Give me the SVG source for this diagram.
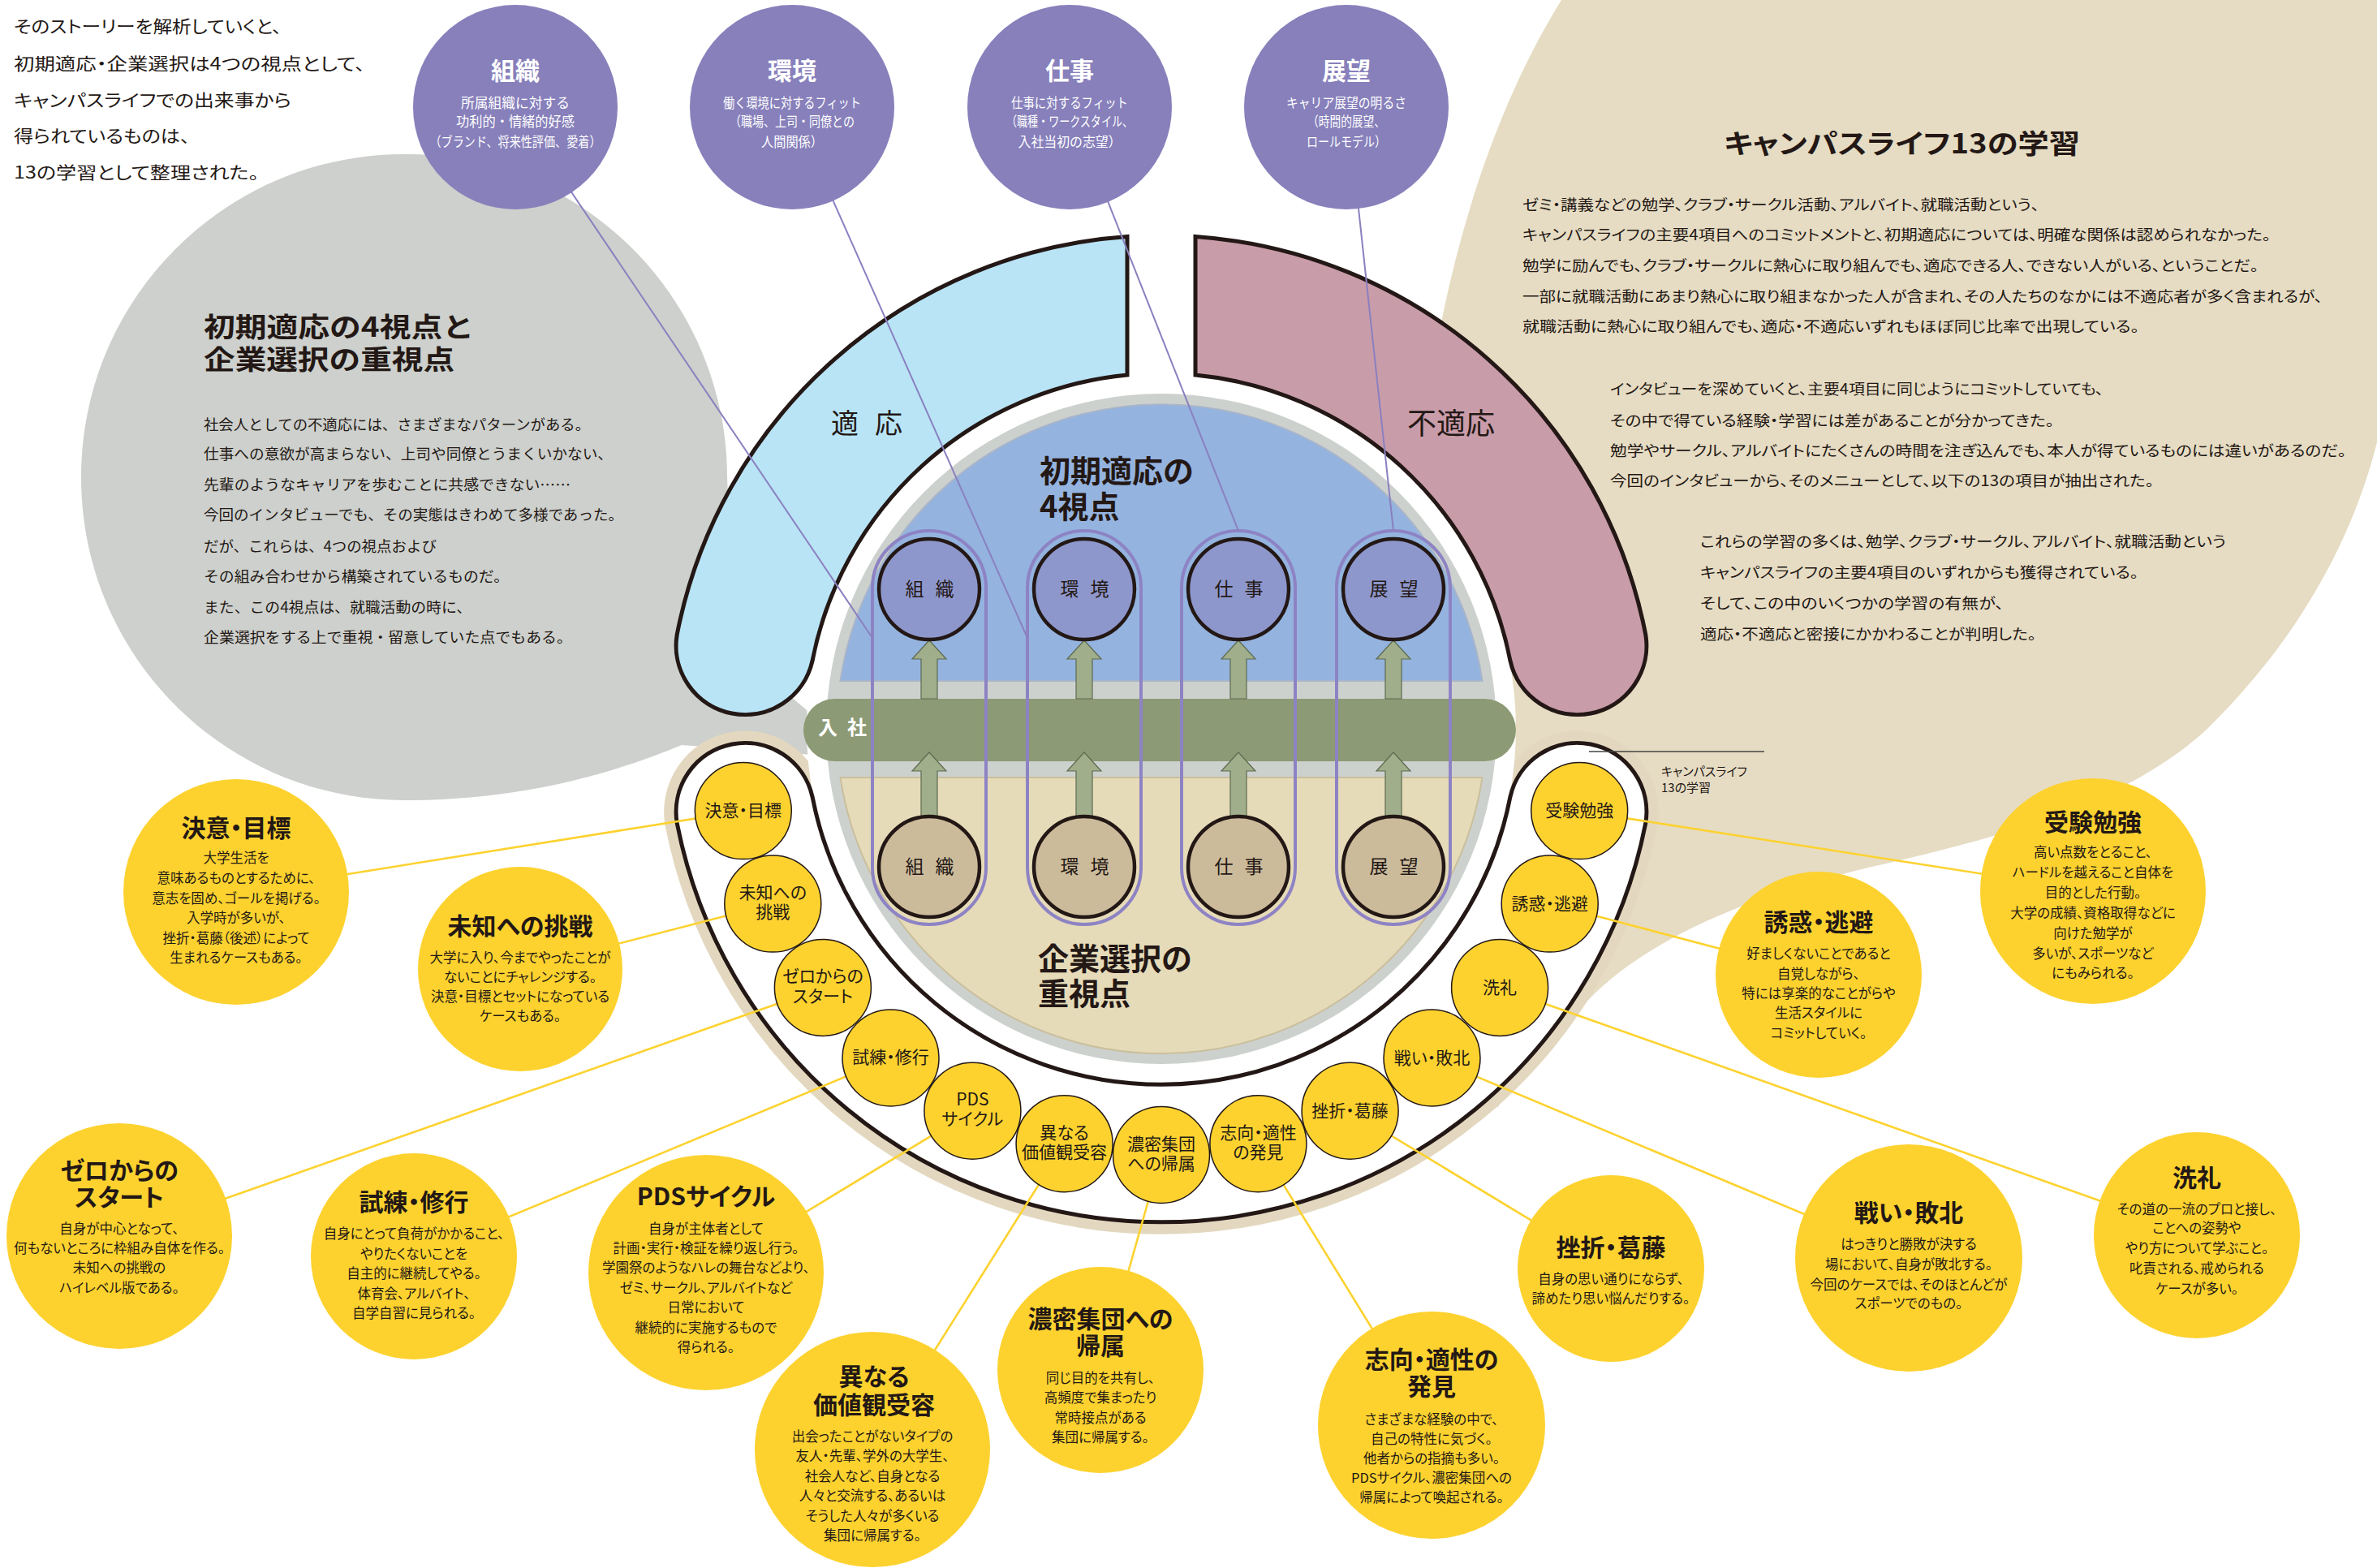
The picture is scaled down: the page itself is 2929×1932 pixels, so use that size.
<svg xmlns="http://www.w3.org/2000/svg" width="2929" height="1932" viewBox="0 0 2929 1932">
<defs>
<style>
.t{font-family:"Noto Sans CJK JP","Noto Sans",sans-serif;fill:#231815;font-feature-settings:"palt"}
.tn{font-family:"Noto Sans CJK JP","Noto Sans",sans-serif;fill:#231815}
.w{fill:#fff}
.b{font-weight:bold}
.ttl{font-size:30px;font-weight:bold;text-anchor:middle}
.bd{font-size:16.5px;text-anchor:middle}
.sm{font-size:21px;text-anchor:middle}
.pc{fill:#8780bb}
.pt{font-size:30px;font-weight:bold;text-anchor:middle;fill:#fff}
.ps{font-size:16.5px;text-anchor:middle;fill:#fff}
.yc{fill:#fdd22f}
.ys{fill:#fdd22f;stroke:#231815;stroke-width:1.5}
.yl{stroke:#fdd22f;stroke-width:2.6;fill:none}
.pl{stroke:#8a80c0;stroke-width:2;fill:none}
.cap{fill:none;stroke:#8d83c4;stroke-width:4}
.arr{fill:#a0ae8b;stroke:#5d6b50;stroke-width:1.2}
.ct{fill:#8e97cc;stroke:#231815;stroke-width:4.5}
.cb{fill:#ccbb9b;stroke:#231815;stroke-width:4.5}
.cl{font-size:23px;text-anchor:middle}
</style>
<path id="arrUp" d="M0,789 L21,812 L10,812 L10,861 L-10,861 L-10,812 L-21,812 Z"/>
<path id="arrDn" d="M0,927 L21,950 L10,950 L10,1006 L-10,1006 L-10,950 L-21,950 Z"/>
</defs>

<rect width="2929" height="1932" fill="#fff"/>

<!-- background bubbles -->
<path id="bubble-left" d="M498,190 C718,190 896,368 896,588 L905,800 L1000,880 L1000,930 L840,918 C750,955 640,986 498,986 C278,986 100,808 100,588 C100,368 278,190 498,190 Z" fill="#cdd0cc"/>
<path id="bubble-right" d="M1924,0 L2929,0 L2929,545 C2905,640 2850,770 2720,898 C2620,990 2470,1030 2320,1065 C2160,1100 2020,1160 1950,1240 C1905,1290 1870,1330 1845,1365 L1760,1000 L1745,700 C1745,480 1800,200 1924,0 Z" fill="#e6dcc3"/>

<!-- top-left lead text -->
<g id="lead">
<text class="t" font-size="21" x="17" y="40" textLength="330" lengthAdjust="spacingAndGlyphs">そのストーリーを解析していくと、</text>
<text class="t" font-size="21" x="17" y="86" textLength="433" lengthAdjust="spacingAndGlyphs">初期適応・企業選択は4つの視点として、</text>
<text class="t" font-size="21" x="17" y="131" textLength="342" lengthAdjust="spacingAndGlyphs">キャンパスライフでの出来事から</text>
<text class="t" font-size="21" x="17" y="175" textLength="217" lengthAdjust="spacingAndGlyphs">得られているものは、</text>
<text class="t" font-size="21" x="17" y="220" textLength="302" lengthAdjust="spacingAndGlyphs">13の学習として整理された。</text>
</g>

<!-- left bubble text -->
<g id="left-text">
<text class="tn b" font-size="33" x="251" y="415" textLength="333" lengthAdjust="spacingAndGlyphs">初期適応の4視点と</text>
<text class="tn b" font-size="33" x="251" y="455" textLength="309" lengthAdjust="spacingAndGlyphs">企業選択の重視点</text>
<g class="tn" font-size="18">
<text x="251" y="530" textLength="476" lengthAdjust="spacingAndGlyphs">社会人としての不適応には、さまざまなパターンがある。</text>
<text x="251" y="566" textLength="504" lengthAdjust="spacingAndGlyphs">仕事への意欲が高まらない、上司や同僚とうまくいかない、</text>
<text x="251" y="604" textLength="452" lengthAdjust="spacingAndGlyphs">先輩のようなキャリアを歩むことに共感できない……</text>
<text x="251" y="641" textLength="517" lengthAdjust="spacingAndGlyphs">今回のインタビューでも、その実態はきわめて多様であった。</text>
<text x="251" y="680" textLength="287" lengthAdjust="spacingAndGlyphs">だが、これらは、4つの視点および</text>
<text x="251" y="717" textLength="376" lengthAdjust="spacingAndGlyphs">その組み合わせから構築されているものだ。</text>
<text x="251" y="755" textLength="330" lengthAdjust="spacingAndGlyphs">また、この4視点は、就職活動の時に、</text>
<text x="251" y="792" textLength="454" lengthAdjust="spacingAndGlyphs">企業選択をする上で重視・留意していた点でもある。</text>
</g>
</g>

<!-- right bubble text -->
<g id="right-text">
<text class="t b" font-size="33" x="2124" y="189" textLength="439" lengthAdjust="spacingAndGlyphs">キャンパスライフ13の学習</text>
<g class="t" font-size="18.5">
<text x="1876" y="259" textLength="637" lengthAdjust="spacingAndGlyphs">ゼミ・講義などの勉学、クラブ・サークル活動、アルバイト、就職活動という、</text>
<text x="1876" y="296" textLength="922" lengthAdjust="spacingAndGlyphs">キャンパスライフの主要4項目へのコミットメントと、初期適応については、明確な関係は認められなかった。</text>
<text x="1876" y="334" textLength="907" lengthAdjust="spacingAndGlyphs">勉学に励んでも、クラブ・サークルに熱心に取り組んでも、適応できる人、できない人がいる、ということだ。</text>
<text x="1876" y="372" textLength="986" lengthAdjust="spacingAndGlyphs">一部に就職活動にあまり熱心に取り組まなかった人が含まれ、その人たちのなかには不適応者が多く含まれるが、</text>
<text x="1876" y="409" textLength="760" lengthAdjust="spacingAndGlyphs">就職活動に熱心に取り組んでも、適応・不適応いずれもほぼ同じ比率で出現している。</text>
<text x="1984" y="486" textLength="608" lengthAdjust="spacingAndGlyphs">インタビューを深めていくと、主要4項目に同じようにコミットしていても、</text>
<text x="1984" y="525" textLength="547" lengthAdjust="spacingAndGlyphs">その中で得ている経験・学習には差があることが分かってきた。</text>
<text x="1984" y="562" textLength="907" lengthAdjust="spacingAndGlyphs">勉学やサークル、アルバイトにたくさんの時間を注ぎ込んでも、本人が得ているものには違いがあるのだ。</text>
<text x="1984" y="599" textLength="670" lengthAdjust="spacingAndGlyphs">今回のインタビューから、そのメニューとして、以下の13の項目が抽出された。</text>
<text x="2095" y="674" textLength="648" lengthAdjust="spacingAndGlyphs">これらの学習の多くは、勉学、クラブ・サークル、アルバイト、就職活動という</text>
<text x="2095" y="712" textLength="540" lengthAdjust="spacingAndGlyphs">キャンパスライフの主要4項目のいずれからも獲得されている。</text>
<text x="2095" y="750" textLength="374" lengthAdjust="spacingAndGlyphs">そして、この中のいくつかの学習の有無が、</text>
<text x="2095" y="788" textLength="414" lengthAdjust="spacingAndGlyphs">適応・不適応と密接にかかわることが判明した。</text>
</g>
</g>

<!-- central ring and disk -->
<g id="core">
<path d="M1001,981.6 A85,85 0 0 0 834.2,1014 A608,608 0 0 0 2027.8,1014 A85,85 0 0 0 1861,981.6 A438,438 0 0 1 1001,981.6 Z" fill="none" stroke="#e3d8bf" stroke-width="30"/>
<circle cx="1431" cy="898" r="437" fill="#fff"/>
<circle cx="1431" cy="898" r="413" fill="#cdd1ce"/>
<path d="M1035.4,839 A400,400 0 0 1 1826.6,839 Z" fill="#94b3df" stroke="#a9b5c9" stroke-width="2"/>
<path d="M1035.5,958 A400,400 0 0 0 1826.5,958 Z" fill="#e6dbb9" stroke="#cabf9d" stroke-width="2"/>
</g>

<g id="band-adapt">
<path d="M1389,291.5 A608,608 0 0 0 834.2,782 A85,85 0 0 0 1001,814.4 A438,438 0 0 1 1389,462 Z" fill="#b9e4f6" stroke="#231815" stroke-width="5" stroke-linejoin="miter"/>
<text class="tn" font-size="34" x="1024" y="534" letter-spacing="20">適応</text>
</g>
<g id="band-maladapt">
<path d="M1473,291.5 A608,608 0 0 1 2027.8,782 A85,85 0 0 1 1861,814.4 A438,438 0 0 0 1473,462 Z" fill="#c99ca9" stroke="#231815" stroke-width="5"/>
<text class="tn" font-size="36" x="1734" y="535">不適応</text>
</g>

<g id="ring-13">
<path d="M1001,981.6 A85,85 0 0 0 834.2,1014 A608,608 0 0 0 2027.8,1014 A85,85 0 0 0 1861,981.6 A438,438 0 0 1 1001,981.6 Z" fill="#fff" stroke="#231815" stroke-width="5"/>
</g>

<g id="entry-bar">
<rect x="990" y="861" width="878" height="77" rx="38.5" fill="#8c9a75"/>
<text class="tn w b" font-size="24" x="1020 1056" y="905" text-anchor="middle" style="fill:#fff">入社</text>
</g>

<g id="arrows">
<use href="#arrUp" x="1145" class="arr"/>
<use href="#arrUp" x="1336" class="arr"/>
<use href="#arrUp" x="1526" class="arr"/>
<use href="#arrUp" x="1717" class="arr"/>
<use href="#arrDn" x="1145" class="arr"/>
<use href="#arrDn" x="1336" class="arr"/>
<use href="#arrDn" x="1526" class="arr"/>
<use href="#arrDn" x="1717" class="arr"/>
</g>

<g id="core-labels">
<text class="tn b" font-size="38" x="1281" y="594">初期適応の</text>
<text class="tn b" font-size="38" x="1281" y="638">4視点</text>
<text class="tn b" font-size="38" x="1279" y="1195">企業選択の</text>
<text class="tn b" font-size="38" x="1279" y="1238">重視点</text>
</g>

<g id="view-organization">
<circle class="ct" cx="1145" cy="726" r="62"/>
<circle class="cb" cx="1145" cy="1068" r="62"/>
<text class="tn cl" x="1127 1164" y="734">組織</text>
<text class="tn cl" x="1127 1164" y="1076">組織</text>
</g>
<g id="view-environment">
<circle class="ct" cx="1336" cy="726" r="62"/>
<circle class="cb" cx="1336" cy="1068" r="62"/>
<text class="tn cl" x="1318 1355" y="734">環境</text>
<text class="tn cl" x="1318 1355" y="1076">環境</text>
</g>
<g id="view-work">
<circle class="ct" cx="1526" cy="726" r="62"/>
<circle class="cb" cx="1526" cy="1068" r="62"/>
<text class="tn cl" x="1508 1545" y="734">仕事</text>
<text class="tn cl" x="1508 1545" y="1076">仕事</text>
</g>
<g id="view-outlook">
<circle class="ct" cx="1717" cy="726" r="62"/>
<circle class="cb" cx="1717" cy="1068" r="62"/>
<text class="tn cl" x="1699 1736" y="734">展望</text>
<text class="tn cl" x="1699 1736" y="1076">展望</text>
</g>

<!-- connectors -->
<g id="connectors">
<rect class="cap" x="1075" y="654" width="140" height="485" rx="70"/>
<rect class="cap" x="1266" y="654" width="140" height="485" rx="70"/>
<rect class="cap" x="1456" y="654" width="140" height="485" rx="70"/>
<rect class="cap" x="1647" y="654" width="140" height="485" rx="70"/>
<line class="pl" x1="680" y1="201" x2="1075" y2="786"/>
<line class="pl" x1="1010" y1="210" x2="1266" y2="786"/>
<line class="pl" x1="1350" y1="210" x2="1526" y2="654"/>
<line class="pl" x1="1670" y1="220" x2="1717" y2="654"/>
<line class="yl" x1="915.8" y1="999.1" x2="291" y2="1099"/>
<line class="yl" x1="952.3" y1="1113.6" x2="641" y2="1194"/>
<line class="yl" x1="1013.9" y1="1216.9" x2="147" y2="1523"/>
<line class="yl" x1="1097.5" y1="1303.5" x2="510" y2="1548"/>
<line class="yl" x1="1198.4" y1="1368.7" x2="870" y2="1568"/>
<line class="yl" x1="1311.6" y1="1409.2" x2="1075" y2="1786"/>
<line class="yl" x1="1431" y1="1423" x2="1356" y2="1688"/>
<line class="yl" x1="1550.4" y1="1409.2" x2="1764" y2="1756"/>
<line class="yl" x1="1663.6" y1="1368.7" x2="1985" y2="1563"/>
<line class="yl" x1="1764.5" y1="1303.5" x2="2352" y2="1550"/>
<line class="yl" x1="1848.1" y1="1216.9" x2="2707" y2="1522"/>
<line class="yl" x1="1909.7" y1="1113.6" x2="2241" y2="1201"/>
<line class="yl" x1="1946.2" y1="999.1" x2="2579" y2="1098"/>
<line x1="1958" y1="926" x2="2174" y2="926" stroke="#444" stroke-width="1.5"/>
</g>
<text class="t" font-size="15" x="2047" y="955.5">キャンパスライフ</text>
<text class="t" font-size="15" x="2047" y="975.5">13の学習</text>

<!-- four viewpoints -->
<g id="p-organization">
<circle class="pc" cx="635" cy="132" r="126"/>
<text class="tn pt" x="635" y="98">組織</text>
<text class="tn ps" x="635" y="133" textLength="134" lengthAdjust="spacingAndGlyphs">所属組織に対する</text>
<text class="tn ps" x="635" y="156" textLength="146" lengthAdjust="spacingAndGlyphs">功利的・情緒的好感</text>
<text class="tn ps" x="635" y="181" textLength="211" lengthAdjust="spacingAndGlyphs">（ブランド、将来性評価、愛着）</text>
</g>
<g id="p-environment">
<circle class="pc" cx="976" cy="132" r="126"/>
<text class="tn pt" x="976" y="98">環境</text>
<text class="tn ps" x="976" y="133" textLength="170" lengthAdjust="spacingAndGlyphs">働く環境に対するフィット</text>
<text class="tn ps" x="976" y="156" textLength="154" lengthAdjust="spacingAndGlyphs">（職場、上司・同僚との</text>
<text class="tn ps" x="976" y="181" textLength="76" lengthAdjust="spacingAndGlyphs">人間関係）</text>
</g>
<g id="p-work">
<circle class="pc" cx="1318" cy="132" r="126"/>
<text class="tn pt" x="1318" y="98">仕事</text>
<text class="tn ps" x="1318" y="133" textLength="144" lengthAdjust="spacingAndGlyphs">仕事に対するフィット</text>
<text class="tn ps" x="1318" y="156" textLength="156" lengthAdjust="spacingAndGlyphs">（職種・ワークスタイル、</text>
<text class="tn ps" x="1318" y="181" textLength="127" lengthAdjust="spacingAndGlyphs">入社当初の志望）</text>
</g>
<g id="p-outlook">
<circle class="pc" cx="1659" cy="132" r="126"/>
<text class="tn pt" x="1659" y="98">展望</text>
<text class="tn ps" x="1659" y="133" textLength="148" lengthAdjust="spacingAndGlyphs">キャリア展望の明るさ</text>
<text class="tn ps" x="1659" y="156" textLength="96" lengthAdjust="spacingAndGlyphs">（時間的展望、</text>
<text class="tn ps" x="1659" y="181" textLength="98" lengthAdjust="spacingAndGlyphs">ロールモデル）</text>
</g>

<!-- 13 learnings: ring markers -->
<g id="ring-items">
<g id="s1"><circle class="ys" cx="915.8" cy="999.1" r="59.5"/><text class="t sm" x="915.8" y="1006">決意・目標</text></g>
<g id="s2"><circle class="ys" cx="952.3" cy="1113.6" r="59.5"/><text class="t sm" x="952.3" y="1107">未知への</text><text class="t sm" x="952.3" y="1131">挑戦</text></g>
<g id="s3"><circle class="ys" cx="1013.9" cy="1216.9" r="59.5"/><text class="t sm" x="1013.9" y="1210">ゼロからの</text><text class="t sm" x="1013.9" y="1235">スタート</text></g>
<g id="s4"><circle class="ys" cx="1097.5" cy="1303.5" r="59.5"/><text class="t sm" x="1097.5" y="1310">試練・修行</text></g>
<g id="s5"><circle class="ys" cx="1198.4" cy="1368.7" r="59.5"/><text class="t sm" x="1198.4" y="1362">PDS</text><text class="t sm" x="1198.4" y="1386">サイクル</text></g>
<g id="s6"><circle class="ys" cx="1311.6" cy="1409.2" r="59.5"/><text class="t sm" x="1311.6" y="1403">異なる</text><text class="t sm" x="1311.6" y="1427">価値観受容</text></g>
<g id="s7"><circle class="ys" cx="1431" cy="1423" r="59.5"/><text class="t sm" x="1431" y="1417">濃密集団</text><text class="t sm" x="1431" y="1441">への帰属</text></g>
<g id="s8"><circle class="ys" cx="1550.4" cy="1409.2" r="59.5"/><text class="t sm" x="1550.4" y="1403">志向・適性</text><text class="t sm" x="1550.4" y="1427">の発見</text></g>
<g id="s9"><circle class="ys" cx="1663.6" cy="1368.7" r="59.5"/><text class="t sm" x="1663.6" y="1376">挫折・葛藤</text></g>
<g id="s10"><circle class="ys" cx="1764.5" cy="1303.5" r="59.5"/><text class="t sm" x="1764.5" y="1311">戦い・敗北</text></g>
<g id="s11"><circle class="ys" cx="1848.1" cy="1216.9" r="59.5"/><text class="t sm" x="1848.1" y="1224">洗礼</text></g>
<g id="s12"><circle class="ys" cx="1909.7" cy="1113.6" r="59.5"/><text class="t sm" x="1909.7" y="1121">誘惑・逃避</text></g>
<g id="s13"><circle class="ys" cx="1946.2" cy="999.1" r="59.5"/><text class="t sm" x="1946.2" y="1006">受験勉強</text></g>
</g>

<!-- 13 learnings: descriptions -->
<g id="d1"><circle class="yc" cx="291" cy="1099" r="139"/>
<text class="t ttl" x="291" y="1031">決意・目標</text>
<text class="t bd" x="291" y="1063">大学生活を</text>
<text class="t bd" x="291" y="1088">意味あるものとするために、</text>
<text class="t bd" x="291" y="1113">意志を固め、ゴールを掲げる。</text>
<text class="t bd" x="291" y="1137">入学時が多いが、</text>
<text class="t bd" x="291" y="1162">挫折・葛藤（後述）によって</text>
<text class="t bd" x="291" y="1186">生まれるケースもある。</text>
</g>
<g id="d2"><circle class="yc" cx="641" cy="1194" r="126"/>
<text class="t ttl" x="641" y="1152">未知への挑戦</text>
<text class="t bd" x="641" y="1186">大学に入り、今までやったことが</text>
<text class="t bd" x="641" y="1210">ないことにチャレンジする。</text>
<text class="t bd" x="641" y="1234">決意・目標とセットになっている</text>
<text class="t bd" x="641" y="1258">ケースもある。</text>
</g>
<g id="d3"><circle class="yc" cx="147" cy="1523" r="139"/>
<text class="t ttl" x="147" y="1453">ゼロからの</text>
<text class="t ttl" x="147" y="1486">スタート</text>
<text class="t bd" x="147" y="1520">自身が中心となって、</text>
<text class="t bd" x="147" y="1544">何もないところに枠組み自体を作る。</text>
<text class="t bd" x="147" y="1568">未知への挑戦の</text>
<text class="t bd" x="147" y="1593">ハイレベル版である。</text>
</g>
<g id="d4"><circle class="yc" cx="510" cy="1548" r="127"/>
<text class="t ttl" x="510" y="1492">試練・修行</text>
<text class="t bd" x="510" y="1526">自身にとって負荷がかかること、</text>
<text class="t bd" x="510" y="1551">やりたくないことを</text>
<text class="t bd" x="510" y="1575">自主的に継続してやる。</text>
<text class="t bd" x="510" y="1600">体育会、アルバイト、</text>
<text class="t bd" x="510" y="1624">自学自習に見られる。</text>
</g>
<g id="d5"><circle class="yc" cx="870" cy="1568" r="145"/>
<text class="t ttl" x="870" y="1485">PDSサイクル</text>
<text class="t bd" x="870" y="1520">自身が主体者として</text>
<text class="t bd" x="870" y="1544">計画・実行・検証を繰り返し行う。</text>
<text class="t bd" x="870" y="1568">学園祭のようなハレの舞台などより、</text>
<text class="t bd" x="870" y="1593">ゼミ、サークル、アルバイトなど</text>
<text class="t bd" x="870" y="1617">日常において</text>
<text class="t bd" x="870" y="1642">継続的に実施するもので</text>
<text class="t bd" x="870" y="1666">得られる。</text>
</g>
<g id="d6"><circle class="yc" cx="1075" cy="1786" r="145"/>
<text class="t ttl" x="1077" y="1707">異なる</text>
<text class="t ttl" x="1077" y="1742">価値観受容</text>
<text class="t bd" x="1075" y="1776">出会ったことがないタイプの</text>
<text class="t bd" x="1075" y="1800">友人・先輩、学外の大学生、</text>
<text class="t bd" x="1075" y="1825">社会人など、自身となる</text>
<text class="t bd" x="1075" y="1849">人々と交流する、あるいは</text>
<text class="t bd" x="1075" y="1874">そうした人々が多くいる</text>
<text class="t bd" x="1075" y="1898">集団に帰属する。</text>
</g>
<g id="d7"><circle class="yc" cx="1356" cy="1688" r="127"/>
<text class="t ttl" x="1356" y="1636">濃密集団への</text>
<text class="t ttl" x="1356" y="1669">帰属</text>
<text class="t bd" x="1356" y="1704">同じ目的を共有し、</text>
<text class="t bd" x="1356" y="1728">高頻度で集まったり</text>
<text class="t bd" x="1356" y="1753">常時接点がある</text>
<text class="t bd" x="1356" y="1777">集団に帰属する。</text>
</g>
<g id="d8"><circle class="yc" cx="1764" cy="1756" r="140"/>
<text class="t ttl" x="1764" y="1686">志向・適性の</text>
<text class="t ttl" x="1764" y="1719">発見</text>
<text class="t bd" x="1764" y="1755">さまざまな経験の中で、</text>
<text class="t bd" x="1764" y="1779">自己の特性に気づく。</text>
<text class="t bd" x="1764" y="1803">他者からの指摘も多い。</text>
<text class="t bd" x="1764" y="1827">PDSサイクル、濃密集団への</text>
<text class="t bd" x="1764" y="1851">帰属によって喚起される。</text>
</g>
<g id="d9"><circle class="yc" cx="1985" cy="1563" r="115"/>
<text class="t ttl" x="1985" y="1548">挫折・葛藤</text>
<text class="t bd" x="1985" y="1582">自身の思い通りにならず、</text>
<text class="t bd" x="1985" y="1606">諦めたり思い悩んだりする。</text>
</g>
<g id="d10"><circle class="yc" cx="2352" cy="1550" r="140"/>
<text class="t ttl" x="2352" y="1505">戦い・敗北</text>
<text class="t bd" x="2352" y="1539">はっきりと勝敗が決する</text>
<text class="t bd" x="2352" y="1564">場において、自身が敗北する。</text>
<text class="t bd" x="2352" y="1589">今回のケースでは、そのほとんどが</text>
<text class="t bd" x="2352" y="1612">スポーツでのもの。</text>
</g>
<g id="d11"><circle class="yc" cx="2707" cy="1522" r="127"/>
<text class="t ttl" x="2707" y="1462">洗礼</text>
<text class="t bd" x="2707" y="1496">その道の一流のプロと接し、</text>
<text class="t bd" x="2707" y="1519">ことへの姿勢や</text>
<text class="t bd" x="2707" y="1544">やり方について学ぶこと。</text>
<text class="t bd" x="2707" y="1569">叱責される、戒められる</text>
<text class="t bd" x="2707" y="1594">ケースが多い。</text>
</g>
<g id="d12"><circle class="yc" cx="2241" cy="1201" r="127"/>
<text class="t ttl" x="2241" y="1147">誘惑・逃避</text>
<text class="t bd" x="2241" y="1181">好ましくないことであると</text>
<text class="t bd" x="2241" y="1206">自覚しながら、</text>
<text class="t bd" x="2241" y="1230">特には享楽的なことがらや</text>
<text class="t bd" x="2241" y="1254">生活スタイルに</text>
<text class="t bd" x="2241" y="1279">コミットしていく。</text>
</g>
<g id="d13"><circle class="yc" cx="2579" cy="1098" r="139"/>
<text class="t ttl" x="2579" y="1024">受験勉強</text>
<text class="t bd" x="2579" y="1056">高い点数をとること、</text>
<text class="t bd" x="2579" y="1081">ハードルを越えること自体を</text>
<text class="t bd" x="2579" y="1106">目的とした行動。</text>
<text class="t bd" x="2579" y="1131">大学の成績、資格取得などに</text>
<text class="t bd" x="2579" y="1156">向けた勉学が</text>
<text class="t bd" x="2579" y="1181">多いが、スポーツなど</text>
<text class="t bd" x="2579" y="1205">にもみられる。</text>
</g>
</svg>
